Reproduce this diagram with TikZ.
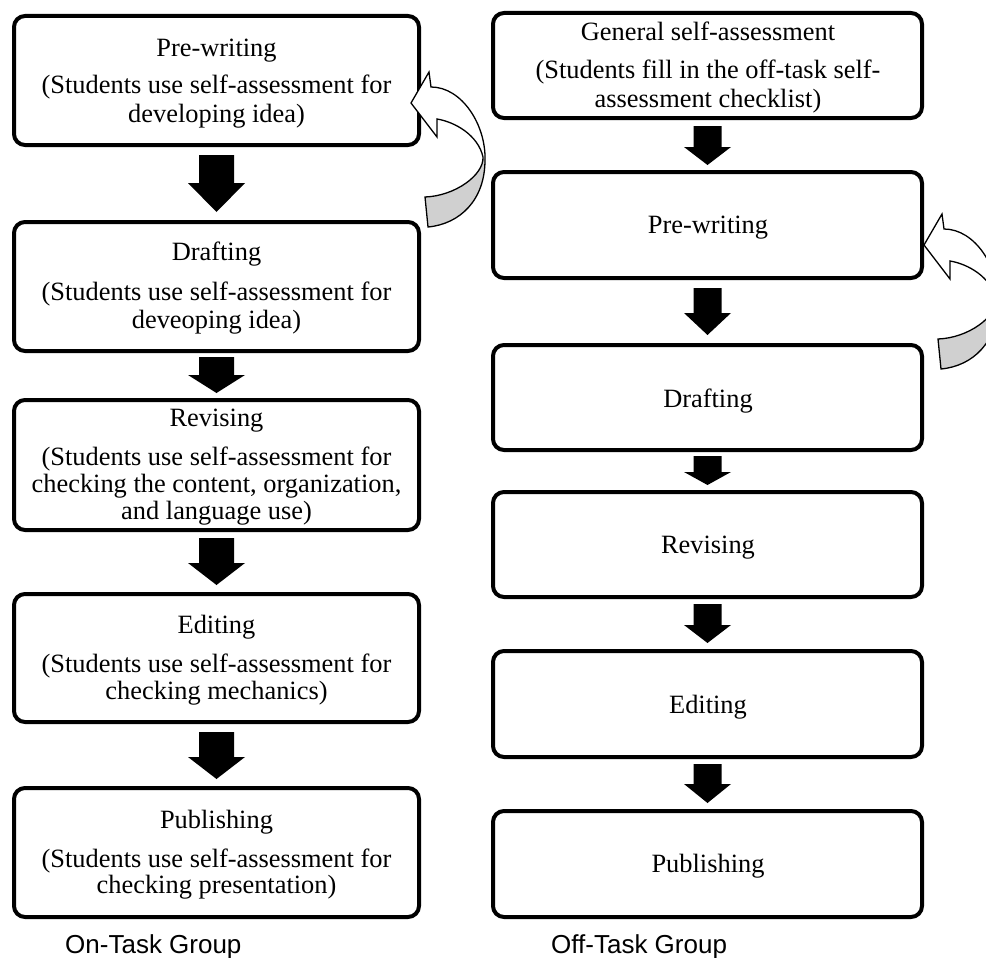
\documentclass[tikz,border=0pt]{standalone}
\usepackage{fontspec}
\setmainfont{Liberation Serif}
\newfontfamily\grouplabelfont{Liberation Sans}
\usetikzlibrary{calc}

\definecolor{backface}{RGB}{208,208,208}

\tikzset{
  stagebox/.style={draw, line width=4pt, rounded corners=11pt, outer sep=0pt,
    inner sep=0pt, fill=white},
  boxtext/.style={inner sep=0pt, anchor=base, font=\fontsize{26.4}{28}\selectfont},
  grouplabel/.style={inner sep=0pt, anchor=base west,
    font=\grouplabelfont\fontsize{26}{28}\selectfont},
  bendarrow/.style={line width=1.3pt, line join=miter},
}

% Thick downward block arrow between two stacked boxes:
% #1 upper box, #2 lower box, #3 shaft half-width, #4 head half-width,
% #5 gap below upper box, #6 gap above lower box, #7 head length
\newcommand\blockarrow[7]{%
  \fill let \p1=(#1.south), \p2=(#2.north) in
    (\x1-#3pt,\y1-#5pt) -- (\x1+#3pt,\y1-#5pt) -- (\x1+#3pt,\y2+#6pt+#7pt)
    -- (\x1+#4pt,\y2+#6pt+#7pt) -- (\x1,\y2+#6pt) -- (\x1-#4pt,\y2+#6pt+#7pt)
    -- (\x1-#3pt,\y2+#6pt+#7pt) -- cycle;
}

% Curved return arrow pointing back up-left (white front, grey back face)
\newcommand\loopback{%
  \fill[white] (431,87) .. controls (462,87) and (486,125) .. (485,160)
    -- (483,157) .. controls (478,135) and (455,122) .. (437,119)
    -- (437,137) -- (411,103) -- (429,72) -- cycle;
  \fill[backface] (425,197) -- (428,227) .. controls (460,224) and (485,200) .. (485,160)
    -- (483,157) .. controls (484,175) and (455,196) .. (425,197) -- cycle;
  \draw[bendarrow] (428,227) .. controls (460,224) and (485,200) .. (485,160)
    .. controls (486,125) and (462,87) .. (431,87) -- (429,72) -- (411,103)
    -- (437,137) -- (437,119) .. controls (455,122) and (478,135) .. (483,157)
    .. controls (484,175) and (455,196) .. (425,197) -- cycle;
}

\begin{document}
\begin{tikzpicture}[x=1pt,y=-1pt]
\useasboundingbox (0,0) rectangle (986,958);
\clip (0,0) rectangle (986,958);

% ---------- On-task column ----------
\node[stagebox, minimum width=405pt, minimum height=129pt] (L1) at (216.5,80.5) {};
\node[stagebox, minimum width=405pt, minimum height=129pt] (L2) at (216.5,286.5) {};
\node[stagebox, minimum width=405pt, minimum height=130pt] (L3) at (216.5,465) {};
\node[stagebox, minimum width=405pt, minimum height=128pt] (L4) at (216.5,658) {};
\node[stagebox, minimum width=405pt, minimum height=129pt] (L5) at (216.5,852.5) {};

\node[boxtext] (L1a) at (216.5,57) {Pre-writing};
\node[boxtext] (L1b) at (216.5,94) {(Students use self-assessment for};
\node[boxtext] (L1c) at (216.5,122) {developing idea)};

\node[boxtext] (L2a) at (216.5,260) {Drafting};
\node[boxtext] (L2b) at (216.5,300) {(Students use self-assessment for};
\node[boxtext] (L2c) at (216.5,328) {deveoping idea)};

\node[boxtext] (L3a) at (216.5,426) {Revising};
\node[boxtext] (L3b) at (216.5,465) {(Students use self-assessment for};
\node[boxtext] (L3c) at (216.5,492) {checking the content, organization,};
\node[boxtext] (L3d) at (216.5,519) {and language use)};

\node[boxtext] (L4a) at (216.5,633) {Editing};
\node[boxtext] (L4b) at (216.5,672) {(Students use self-assessment for};
\node[boxtext] (L4c) at (216.5,699) {checking mechanics)};

\node[boxtext] (L5a) at (216.5,828) {Publishing};
\node[boxtext] (L5b) at (216.5,867) {(Students use self-assessment for};
\node[boxtext] (L5c) at (216.5,893) {checking presentation)};

\blockarrow{L1}{L2}{17.5}{28.5}{10}{10}{29}
\blockarrow{L2}{L3}{17.5}{28.5}{6}{7}{18}
\blockarrow{L3}{L4}{17.5}{28.5}{8}{9}{22}
\blockarrow{L4}{L5}{17.5}{28.5}{10}{9}{22}

% ---------- Off-task column ----------
\node[stagebox, minimum width=429pt, minimum height=105pt] (R1) at (707.5,65.5) {};
\node[stagebox, minimum width=429pt, minimum height=106pt] (R2) at (707.5,225) {};
\node[stagebox, minimum width=429pt, minimum height=105pt] (R3) at (707.5,397.5) {};
\node[stagebox, minimum width=429pt, minimum height=105pt] (R4) at (707.5,544.5) {};
\node[stagebox, minimum width=429pt, minimum height=106pt] (R5) at (707.5,704) {};
\node[stagebox, minimum width=429pt, minimum height=106pt] (R6) at (707.5,864) {};

\node[boxtext] (R1a) at (708,41) {General self-assessment};
\node[boxtext] (R1b) at (708,79) {(Students fill in the off-task self-};
\node[boxtext] (R1c) at (708,107) {assessment checklist)};
\node[boxtext] (R2a) at (708,233) {Pre-writing};
\node[boxtext] (R3a) at (708,407) {Drafting};
\node[boxtext] (R4a) at (708,553) {Revising};
\node[boxtext] (R5a) at (708,713) {Editing};
\node[boxtext] (R6a) at (708,872) {Publishing};

\blockarrow{R1}{R2}{14}{23.5}{8}{7}{18}
\blockarrow{R2}{R3}{14}{23.5}{10}{10}{22}
\blockarrow{R3}{R4}{14}{23.5}{6}{7}{13}
\blockarrow{R4}{R5}{14}{23.5}{7}{8}{18}
\blockarrow{R5}{R6}{14}{23.5}{7}{8}{19}

% ---------- Return arrows ----------
\loopback
\begin{scope}[shift={(513,142)}]
  \loopback
\end{scope}

% ---------- Group labels ----------
\node[grouplabel] (onlabel) at (65,953) {On-Task Group};
\node[grouplabel] (offlabel) at (551,953) {Off-Task Group};
\end{tikzpicture}
\end{document}
